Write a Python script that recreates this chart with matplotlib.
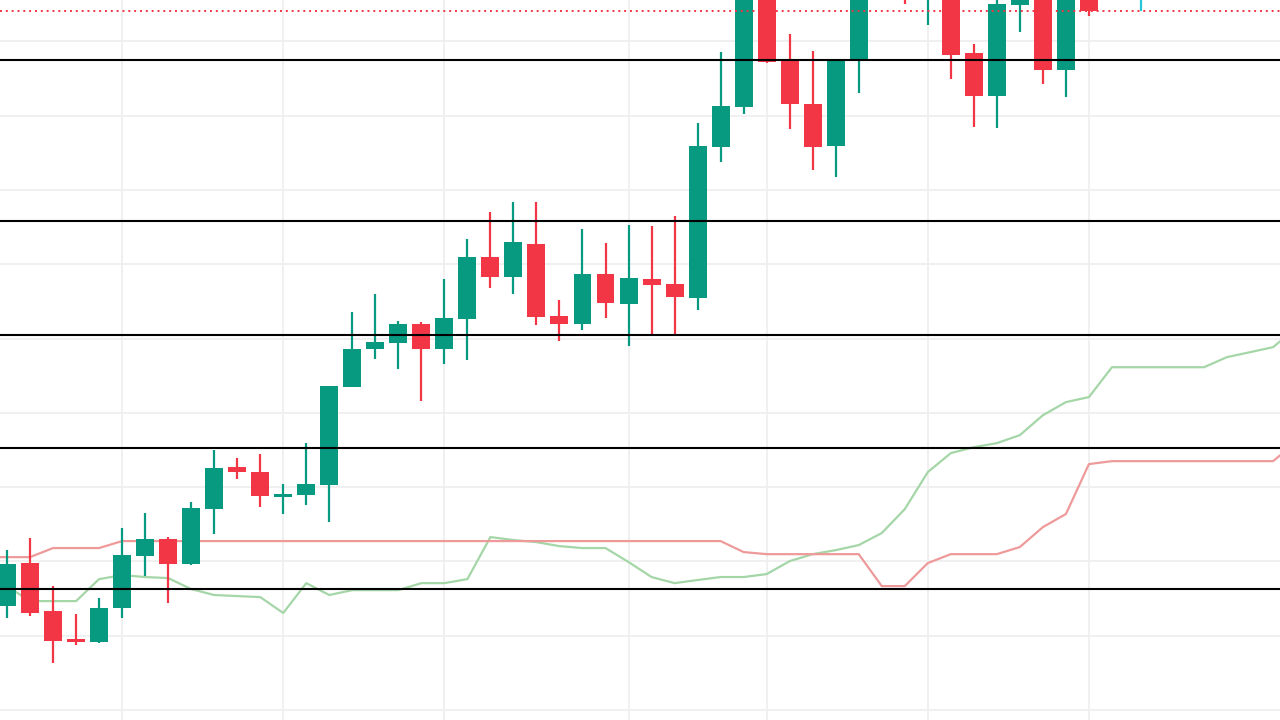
import matplotlib
matplotlib.use("Agg")
import matplotlib.pyplot as plt
import numpy as np

# bougies (open, high, low, close)
opens = [107.00, 109.89, 106.66, 104.78, 104.57, 106.86, 110.36, 111.50, 109.82, 113.52,
         116.35, 116.01, 114.33, 114.46, 115.14, 121.73, 124.28, 124.69, 125.97, 124.28,
         126.30, 130.47, 129.13, 131.35, 126.50, 125.97, 129.33, 127.31, 128.99, 128.66,
         127.72, 137.87, 140.56, 148.77, 143.66, 140.77, 137.94, 143.66, 149.44, 151.13,
         148.10, 150.45, 144.20, 141.30, 147.43, 150.45, 143.05, 148.77]
highs = [110.76, 111.57, 108.34, 106.46, 107.53, 112.24, 113.25, 111.64, 113.99, 117.49,
         116.95, 117.22, 115.20, 117.96, 121.80, 126.77, 127.98, 126.17, 126.10, 128.99,
         131.68, 133.50, 134.17, 134.17, 127.58, 132.36, 131.42, 132.63, 132.56, 133.23,
         139.49, 144.26, 150.12, 149.78, 145.47, 144.33, 143.79, 150.79, 152.47, 151.80,
         151.13, 151.13, 144.80, 148.43, 150.79, 151.13, 149.78, 149.44]
lows = [106.19, 106.32, 103.16, 104.37, 104.51, 106.19, 109.01, 107.20, 109.75, 111.84,
        115.54, 113.66, 113.19, 113.79, 112.65, 121.73, 123.61, 122.94, 120.79, 123.28,
        123.54, 128.39, 127.98, 125.90, 124.82, 125.56, 126.37, 124.49, 125.23, 125.23,
        126.91, 136.86, 140.09, 143.52, 139.08, 136.33, 135.86, 141.51, 148.30, 147.49,
        146.08, 142.45, 139.22, 139.15, 145.61, 142.11, 141.24, 146.69]
closes = [109.82, 106.53, 104.64, 104.57, 106.86, 110.43, 111.50, 109.82, 113.59, 116.28,
          116.01, 114.40, 114.53, 115.20, 121.80, 124.28, 124.76, 125.97, 124.28, 126.37,
          130.47, 129.13, 131.48, 126.44, 125.97, 129.33, 127.38, 129.06, 128.59, 127.78,
          137.94, 140.63, 149.11, 143.59, 140.77, 137.87, 143.73, 149.78, 151.46, 148.43,
          150.45, 144.06, 141.30, 147.49, 149.78, 143.05, 149.11, 147.02]

# nuage (index -1 .. 56)
span_a = [108.75, 108.34, 107.33, 107.33, 107.33, 108.81, 109.08, 108.95, 108.88, 108.14,
          107.74, 107.67, 107.60, 106.53, 108.54, 107.74, 108.07, 108.07, 108.07, 108.54,
          108.54, 108.81, 111.64, 111.44, 111.30, 111.03, 110.90, 110.90, 109.96, 108.95,
          108.54, 108.75, 108.95, 108.95, 109.15, 110.02, 110.49, 110.76, 111.10, 111.91,
          113.52, 116.01, 117.29, 117.69, 117.96, 118.50, 119.84, 120.72, 121.06, 123.07,
          123.07, 123.07, 123.07, 123.07, 123.75, 124.08, 124.42, 125.70]
span_b = [110.29, 110.29, 110.29, 110.90, 110.90, 110.90, 111.37, 111.37, 111.37, 111.37,
          111.37, 111.37, 111.37, 111.37, 111.37, 111.37, 111.37, 111.37, 111.37, 111.37,
          111.37, 111.37, 111.37, 111.37, 111.37, 111.37, 111.37, 111.37, 111.37, 111.37,
          111.37, 111.37, 111.37, 110.63, 110.49, 110.49, 110.49, 110.49, 110.49, 108.34,
          108.34, 109.89, 110.49, 110.49, 110.49, 110.97, 112.31, 113.19, 116.55, 116.75,
          116.75, 116.75, 116.75, 116.75, 116.75, 116.75, 116.75, 118.03]

# niveaux horizontaux
levels = [143.73, 132.89, 125.23, 117.62, 108.14]
grid_x = [5, 12, 19, 27, 33, 40, 47]

green = '#089981'
red = '#F23645'

fig = plt.figure(figsize=(12.8, 7.2), dpi=100)
ax = fig.add_axes([0, 0, 1, 1])

x = np.arange(len(opens))
xs = np.arange(-1, len(span_a) - 1)

# grille
for g in grid_x:
    ax.axvline(g, color='#efefef', linewidth=1.3, zorder=0)
for p in range(100, 150, 5):
    ax.axhline(p, color='#efefef', linewidth=1.3, zorder=0)

# lignes du nuage
ax.plot(xs, span_a, color='#a5d6a7', linewidth=1.6, zorder=1)
ax.plot(xs, span_b, color='#ef9a9a', linewidth=1.6, zorder=1)

# bougies
o = np.array(opens)
c = np.array(closes)
cols = [green if cc >= oo else red for oo, cc in zip(o, c)]
ax.vlines(x, lows, highs, colors=cols, linewidth=1.6, zorder=2)
ax.bar(x, np.abs(c - o), bottom=np.minimum(o, c), width=0.78,
       color=cols, linewidth=0, zorder=3)

# niveaux
for lv in levels:
    ax.axhline(lv, color='black', linewidth=1.5, zorder=4)

# dernier prix
ax.axhline(closes[-1], color=red, linewidth=1.4, linestyle=(0, (1, 2)), zorder=4)
ax.vlines([49.26], closes[-1], 149.0, colors='#26c6da', linewidth=1.6, zorder=4)

ax.set_xlim(-0.304, 55.3)
ax.set_ylim(99.33, 147.78)
ax.axis('off')

fig.savefig('out.png', dpi=100, facecolor='white')
